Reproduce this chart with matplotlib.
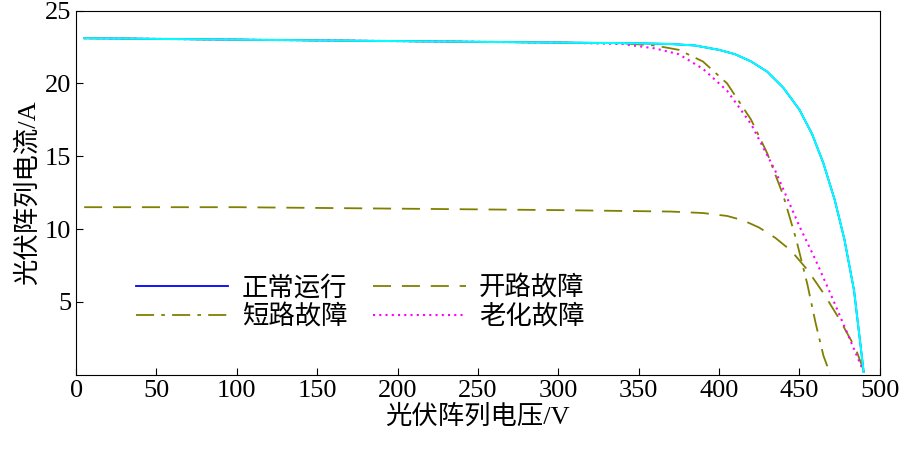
import matplotlib
matplotlib.use("Agg")
import matplotlib.pyplot as plt
import numpy as np

plt.rcParams['font.family'] = ['Liberation Serif', 'Noto Sans CJK SC']

v_norm = [5, 100, 200, 300, 350, 370, 385, 400, 410, 420, 430, 440, 450, 458, 465, 472, 478, 484, 490]
i_norm = [23.1, 23.0, 22.9, 22.8, 22.75, 22.7, 22.6, 22.3, 22.0, 21.5, 20.8, 19.7, 18.2, 16.5, 14.5, 12.0, 9.3, 5.8, 0.2]
v_open = [5, 100, 200, 300, 370, 390, 405, 415, 425, 435, 445, 455, 465, 475, 485, 490]
i_open = [11.5, 11.5, 11.4, 11.3, 11.2, 11.1, 10.9, 10.6, 10.1, 9.4, 8.5, 7.2, 5.6, 3.8, 1.8, 0.3]
v_short = [5, 100, 200, 300, 340, 360, 375, 390, 405, 420, 430, 440, 448, 455, 460, 465, 469]
i_short = [23.1, 23.0, 22.9, 22.8, 22.75, 22.6, 22.3, 21.5, 20.0, 17.5, 15.2, 12.3, 9.3, 6.2, 3.6, 1.3, 0.1]
v_age = [5, 100, 200, 300, 340, 360, 375, 390, 405, 420, 435, 450, 460, 470, 480, 490]
i_age = [23.1, 23.0, 22.9, 22.8, 22.7, 22.4, 22.0, 21.0, 19.5, 17.2, 14.0, 10.2, 7.9, 5.4, 2.8, 0.2]

fig = plt.figure(figsize=(9.06, 4.57), dpi=100)
ax = fig.add_axes([0.084, 0.18, 0.887, 0.797])
ln, = ax.plot(v_norm, i_norm, color='blue', lw=1.3, label='正常运行')
lo, = ax.plot(v_open, i_open, color='#808000', lw=1.3, ls=(0, (10, 6)), label='开路故障')
ls_, = ax.plot(v_short, i_short, color='#808000', lw=1.3, ls=(0, (10, 4, 2, 4)), label='短路故障')
la, = ax.plot(v_age, i_age, color='magenta', lw=1.5, ls=(0, (1, 2)), label='老化故障')
ax.plot(v_norm, i_norm, color='cyan', lw=1.5)

ax.set_xlim(0, 500)
ax.set_ylim(0, 25)
ax.set_xticks(range(0, 501, 50))
ax.set_yticks([5, 10, 15, 20, 25])
ax.tick_params(direction='in', labelsize=19, length=5)
ax.set_xlabel('光伏阵列电压/V', fontsize=19, labelpad=2)
ax.set_ylabel('光伏阵列电流/A', fontsize=19, labelpad=4)
ax.legend([ln, ls_, lo, la], ['正常运行', '短路故障', '开路故障', '老化故障'], ncol=2,
          loc='lower left', bbox_to_anchor=(0.045, 0.06), frameon=False, fontsize=19,
          handlelength=3.5, columnspacing=1.0, labelspacing=0.15, handletextpad=0.5)
fig.savefig('out.png')
